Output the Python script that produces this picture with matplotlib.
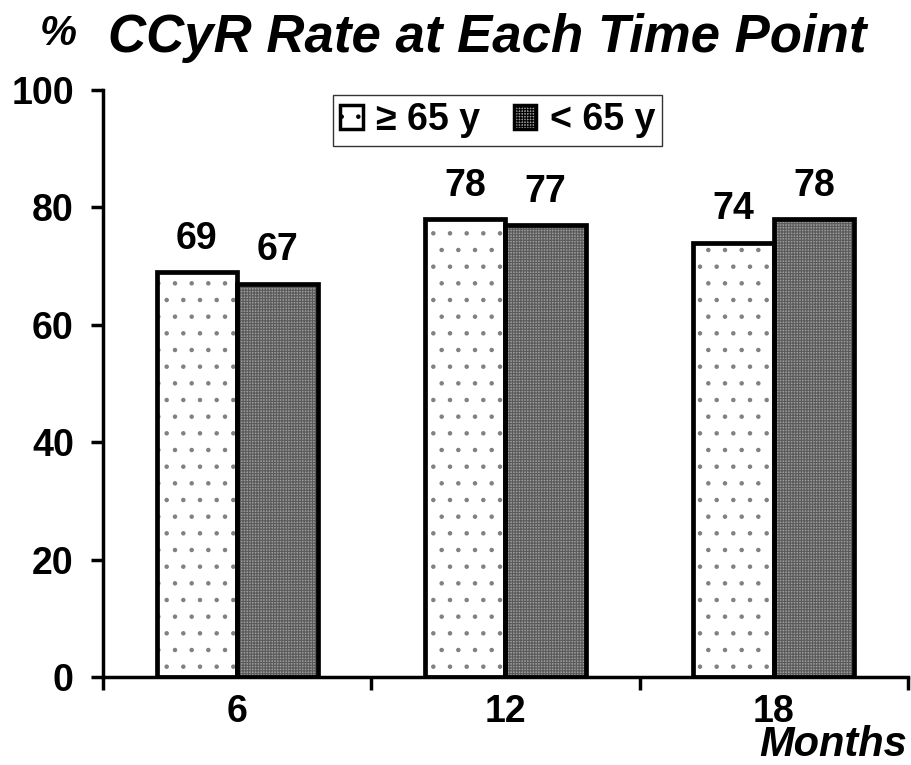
import matplotlib
matplotlib.use("Agg")
import matplotlib.pyplot as plt
import numpy as np
from matplotlib.patches import Patch

plt.rcParams['font.family'] = ['Liberation Sans', 'DejaVu Sans']
plt.rcParams['font.weight'] = 'bold'

months = ["6", "12", "18"]
older = [69, 78, 74]      # >= 65 y
younger = [67, 77, 78]    # < 65 y
series_labels = ["\u2265 65 y", "< 65 y"]
y_ticks = [0, 20, 40, 60, 80, 100]

fig = plt.figure(figsize=(9.12, 7.65), dpi=100)
ax = fig.add_axes([103 / 912, 1 - 677 / 765, (908 - 103) / 912, (677 - 90) / 765])

x = np.arange(len(months))
w = 0.3

older_style = dict(facecolor="white", hatch=".", edgecolor="#808080", linewidth=0)
younger_style = dict(facecolor="#9a9a9a", hatch="++++++", edgecolor="#5a5a5a", linewidth=0)
plt.rcParams['hatch.linewidth'] = 0.8

# filled, hatched bodies
ax.bar(x - w / 2, older, w, **older_style, zorder=2)
ax.bar(x + w / 2, younger, w, **younger_style, zorder=2)
# thick black outlines on top
ax.bar(x - w / 2, older, w, facecolor="none", edgecolor="black", linewidth=3.4, zorder=3)
ax.bar(x + w / 2, younger, w, facecolor="none", edgecolor="black", linewidth=3.4, zorder=3)

for xi, v in zip(x - w / 2, older):
    ax.annotate(str(v), (xi, v), xytext=(0, 11), textcoords="offset points",
                ha="center", va="bottom", fontsize=27, fontweight="bold")
for xi, v in zip(x + w / 2, younger):
    ax.annotate(str(v), (xi, v), xytext=(0, 11), textcoords="offset points",
                ha="center", va="bottom", fontsize=27, fontweight="bold")

ax.set_xlim(-0.5, len(months) - 0.5)
ax.set_ylim(0, 100)
ax.set_yticks(y_ticks)
ax.set_yticklabels([str(t) for t in y_ticks], fontsize=27, fontweight="bold")
ax.set_xticks(x)
ax.set_xticklabels(months, fontsize=27, fontweight="bold")
ax.set_xticks(np.arange(-0.5, len(months), 1.0), minor=True)

ax.tick_params(axis="y", direction="out", length=9, width=2.5, pad=12)
ax.tick_params(axis="x", which="major", length=0, pad=12)
ax.tick_params(axis="x", which="minor", direction="out", length=9, width=2.5)

for s in ("top", "right"):
    ax.spines[s].set_visible(False)
for s in ("left", "bottom"):
    ax.spines[s].set_linewidth(2.5)
ax.spines["bottom"].set_zorder(4)

handles = [Patch(facecolor="white", edgecolor="black", linewidth=2.5, hatch="."),
           Patch(facecolor="#9a9a9a", edgecolor="black", linewidth=2.5, hatch="++++++")]
leg = fig.legend(handles, series_labels, loc="upper left",
                 bbox_to_anchor=(333 / 912, 1 - 95 / 765), ncol=2,
                 prop={"size": 27, "weight": "bold"},
                 handlelength=0.6, handleheight=0.6, handletextpad=0.35,
                 columnspacing=0.9, borderpad=0.2, borderaxespad=0,
                 fancybox=False, frameon=True, edgecolor="black")
leg.get_frame().set_linewidth(1.0)

fig.text(40 / 912, 1 - 45 / 765, "%", fontsize=30, fontweight="bold",
         fontstyle="italic", va="baseline", ha="left")
fig.text(108 / 912, 1 - 52 / 765, "CCyR Rate at Each Time Point", fontsize=38,
         fontweight="bold", fontstyle="italic", va="baseline", ha="left")
fig.text(907 / 912, 1 - 756 / 765, "Months", fontsize=30, fontweight="bold",
         fontstyle="italic", va="baseline", ha="right")

fig.savefig("out.png", dpi=100)
